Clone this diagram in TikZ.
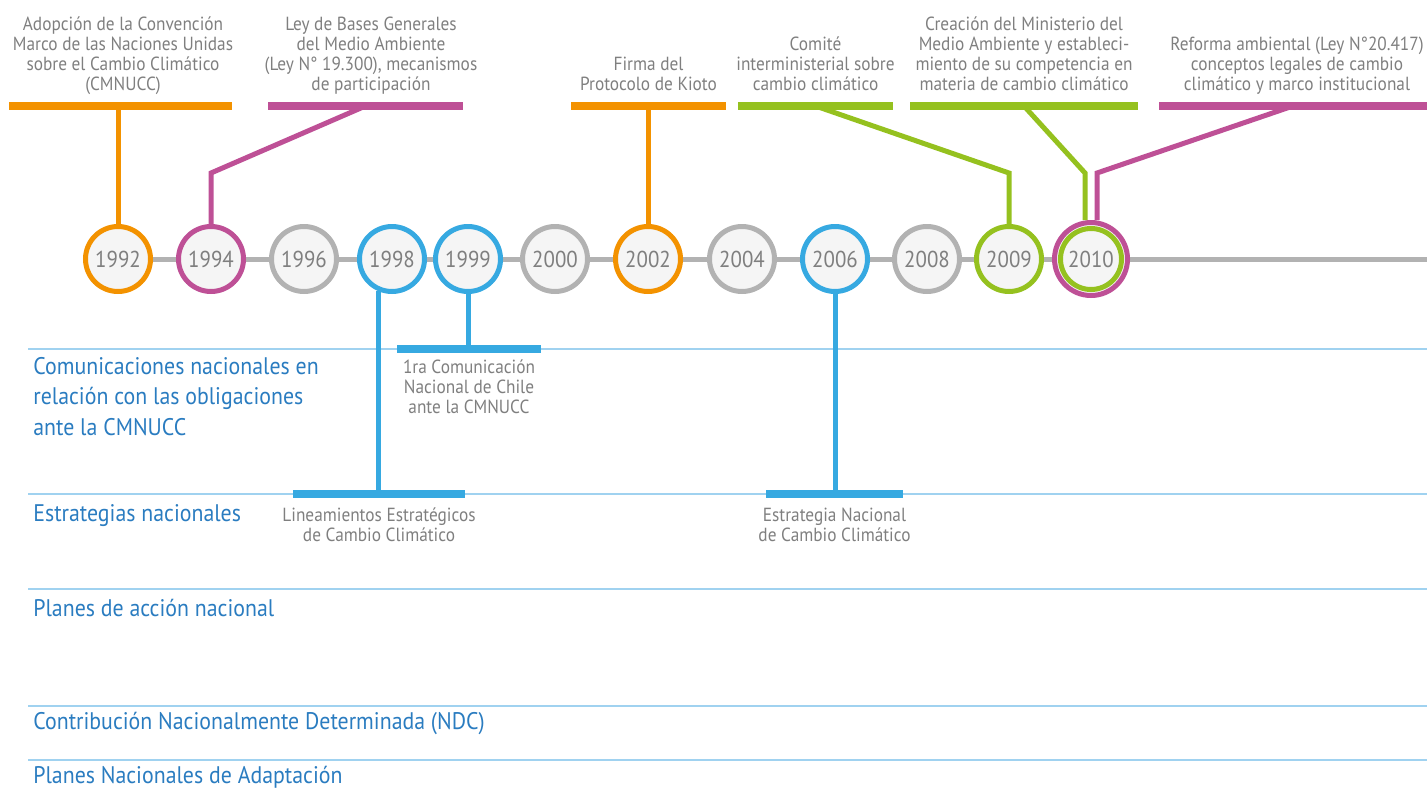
\documentclass[tikz,border=0pt]{standalone}
\usepackage{fontspec}
\setmainfont[FakeStretch=0.91]{PT Sans}
\usetikzlibrary{positioning,backgrounds}
\definecolor{naranja}{HTML}{F39200}
\definecolor{magenta}{HTML}{BE5096}
\definecolor{verde}{HTML}{95C11F}
\definecolor{celeste}{HTML}{36A9E1}
\definecolor{gris}{HTML}{B2B2B2}
\definecolor{relleno}{HTML}{F5F5F5}
\definecolor{textogris}{HTML}{7F7F7F}
\definecolor{textoazul}{HTML}{2A7CC0}
\definecolor{regla}{HTML}{A0D2F0}

\begin{document}
\begin{tikzpicture}[x=0.5pt,y=-0.5pt,
                    anio/.style={circle,draw=#1,line width=2.5pt,fill=relleno,minimum size=32.5pt,inner sep=0,text=textogris,font=\fontsize{11.5}{12}\selectfont},
                    barra/.style={fill=#1,inner sep=0,minimum height=4pt},
                    enlace/.style={draw=#1,line width=2.5pt},
                    nota/.style={align=center,inner sep=0,text=textogris,font=\fontsize{9.5}{10}\selectfont,text depth=2pt},
                    rubro/.style={align=left,anchor=base west,inner sep=0,text=textoazul,font=\fontsize{12}{15.25}\selectfont},
                    regla/.style={draw=regla,line width=1.4pt},
       ]
    \useasboundingbox (0,0) rectangle (1427,787);
    \draw[regla] (28,349) -- (1427,349);
    \draw[regla] (28,494) -- (1427,494);
    \draw[regla] (28,589) -- (1427,589);
    \draw[regla] (28,706) -- (1427,706);
    \draw[regla] (28,760) -- (1427,760);

    \node[rubro] (comunicaciones) at (33,435) {Comunicaciones nacionales en\\relación con las obligaciones\\ante la CMNUCC};
    \node[rubro] (estrategias) at (33,521) {Estrategias nacionales};
    \node[rubro] (planesaccion) at (33,616) {Planes de acción nacional};
    \node[rubro] (ndc) at (33,729) {Contribución Nacionalmente Determinada (NDC)};
    \node[rubro] (adaptacion) at (33,783) {Planes Nacionales de Adaptación};

    \node[anio=naranja] (a1992) at (118,259) {1992};
    \node[anio=magenta] (a1994) at (211,259) {1994};
    \node[anio=gris] (a1996) at (304,259) {1996};
    \node[anio=celeste] (a1998) at (392,259) {1998};
    \node[anio=celeste] (a1999) at (468,259) {1999};
    \node[anio=gris] (a2000) at (555,259) {2000};
    \node[anio=naranja] (a2002) at (648,259) {2002};
    \node[anio=gris] (a2004) at (742,259) {2004};
    \node[anio=celeste] (a2006) at (835,259) {2006};
    \node[anio=gris] (a2008) at (927,259) {2008};
    \node[anio=verde] (a2009) at (1009,259) {2009};
    \node[anio=magenta,minimum size=36.5pt] (a2010) at (1091,259) {};
    \node[anio=verde,minimum size=30.5pt] (a2010v) at (a2010) {2010};

    \begin{scope}[on background layer]
        \draw[enlace=gris] (a1992) -- (a1992 -| 1427,0);
    \end{scope}

    \node[barra=naranja,minimum width=111.5pt] (convencion) at (120.5,106) {};
    \node[barra=magenta,minimum width=97.5pt] (leybases) at (365.5,106) {};
    \node[barra=naranja,minimum width=77.5pt] (kioto) at (648.5,106) {};
    \node[barra=verde,minimum width=77.5pt] (comite) at (815.5,106) {};
    \node[barra=verde,minimum width=114pt] (ministerio) at (1024,106) {};
    \node[barra=magenta,minimum width=134pt] (reforma) at (1293,106) {};
    \node[barra=celeste,minimum width=72pt] (primeracom) at (469,349) {};
    \node[barra=celeste,minimum width=86pt] (lineamientos) at (379,494) {};
    \node[barra=celeste,minimum width=68.5pt] (estrategia) at (834.5,494) {};

    \node[nota,above=3.5pt of convencion,xshift=1.25pt] {Adopción de la Convención\\Marco de las Naciones Unidas\\sobre el Cambio Climático\\(CMNUCC)};
    \node[nota,above=3.5pt of leybases,xshift=2.75pt] {Ley de Bases Generales\\del Medio Ambiente\\(Ley N° 19.300), mecanismos\\de participación};
    \node[nota,above=3.5pt of kioto] {Firma del\\Protocolo de Kioto};
    \node[nota,above=3.5pt of comite] {Comité\\interministerial sobre\\cambio climático};
    \node[nota,above=3.5pt of ministerio] {Creación del Ministerio del\\Medio Ambiente y estableci-\\miento de su competencia en\\materia de cambio climático};
    \node[nota,above=3.5pt of reforma,xshift=2pt] {Reforma ambiental (Ley N°20.417)\\conceptos legales de cambio\\climático y marco institucional};
    \node[nota,anchor=base] at (primeracom |- 0,413) {1ra Comunicación\\Nacional de Chile\\ante la CMNUCC};
    \node[nota,anchor=base] at (lineamientos |- 0,541.5) {Lineamientos Estratégicos\\de Cambio Climático};
    \node[nota,anchor=base] at (estrategia |- 0,541.5) {Estrategia Nacional\\de Cambio Climático};

    \coordinate (k2010v) at ([xshift=-3pt]a2010.north);
    \coordinate (k2010m) at ([xshift=3pt]a2010.north);
    \draw[enlace=naranja] (convencion.center -| a1992) -- (a1992);
    \draw[enlace=magenta] (leybases.center) -- (a1994 |- 0,173) -- (a1994);
    \draw[enlace=naranja] (kioto.center -| a2002) -- (a2002);
    \draw[enlace=verde] (comite.center) -- (a2009 |- 0,173) -- (a2009);
    \draw[enlace=verde] (ministerio.center) -- (k2010v |- 0,173) -- (k2010v);
    \draw[enlace=magenta] (reforma.center) -- (k2010m |- 0,173) -- (k2010m);
    \draw[enlace=celeste] (a1998.-112) -- (a1998.-112 |- lineamientos.center);
    \draw[enlace=celeste] (a1999) -- (a1999 |- primeracom.center);
    \draw[enlace=celeste] (a2006) -- (a2006 |- estrategia.center);
\end{tikzpicture}
\end{document}
